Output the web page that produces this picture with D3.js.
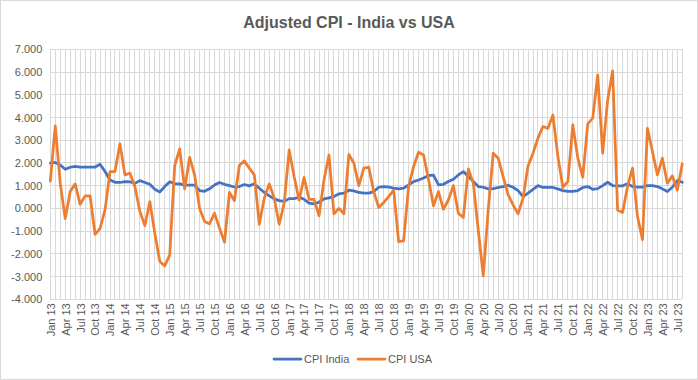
<!DOCTYPE html>
<html>
<head>
<meta charset="utf-8">
<script src="https://cdn.jsdelivr.net/npm/d3@7"></script>
<style>
html,body{margin:0;padding:0;background:#fff;}
svg{display:block;font-family:"Liberation Sans",Arial,sans-serif;}
</style>
</head>
<body>
<svg id="chart" width="698" height="380"></svg>
<script>
const categories = [
"Jan 13","Feb 13","Mar 13","Apr 13","May 13","Jun 13","Jul 13","Aug 13","Sep 13","Oct 13","Nov 13","Dec 13",
"Jan 14","Feb 14","Mar 14","Apr 14","May 14","Jun 14","Jul 14","Aug 14","Sep 14","Oct 14","Nov 14","Dec 14",
"Jan 15","Feb 15","Mar 15","Apr 15","May 15","Jun 15","Jul 15","Aug 15","Sep 15","Oct 15","Nov 15","Dec 15",
"Jan 16","Feb 16","Mar 16","Apr 16","May 16","Jun 16","Jul 16","Aug 16","Sep 16","Oct 16","Nov 16","Dec 16",
"Jan 17","Feb 17","Mar 17","Apr 17","May 17","Jun 17","Jul 17","Aug 17","Sep 17","Oct 17","Nov 17","Dec 17",
"Jan 18","Feb 18","Mar 18","Apr 18","May 18","Jun 18","Jul 18","Aug 18","Sep 18","Oct 18","Nov 18","Dec 18",
"Jan 19","Feb 19","Mar 19","Apr 19","May 19","Jun 19","Jul 19","Aug 19","Sep 19","Oct 19","Nov 19","Dec 19",
"Jan 20","Feb 20","Mar 20","Apr 20","May 20","Jun 20","Jul 20","Aug 20","Sep 20","Oct 20","Nov 20","Dec 20",
"Jan 21","Feb 21","Mar 21","Apr 21","May 21","Jun 21","Jul 21","Aug 21","Sep 21","Oct 21","Nov 21","Dec 21",
"Jan 22","Feb 22","Mar 22","Apr 22","May 22","Jun 22","Jul 22","Aug 22","Sep 22","Oct 22","Nov 22","Dec 22",
"Jan 23","Feb 23","Mar 23","Apr 23","May 23","Jun 23","Jul 23","Aug 23"
];

const tickLabels = [
"Jan 13","Apr 13","Jul 13","Oct 13","Jan 14","Apr 14","Jul 14","Oct 14",
"Jan 15","Apr 15","Jul 15","Oct 15","Jan 16","Apr 16","Jul 16","Oct 16",
"Jan 17","Apr 17","Jul 17","Oct 17","Jan 18","Apr 18","Jul 18","Oct 18",
"Jan 19","Apr 19","Jul 19","Oct 19","Jan 20","Apr 20","Jul 20","Oct 20",
"Jan 21","Apr 21","Jul 21","Oct 21","Jan 22","Apr 22","Jul 22","Oct 22",
"Jan 23","Apr 23","Jul 23"
];

const yTicks = [-4,-3,-2,-1,0,1,2,3,4,5,6,7];

const cpiIndia = [
1.99,2.02,1.91,1.72,1.81,1.85,1.82,1.82,1.82,1.82,1.94,1.62,
1.25,1.15,1.14,1.18,1.17,1.10,1.22,1.14,1.06,0.84,0.72,0.96,
1.17,1.08,1.08,1.02,1.02,1.02,0.78,0.75,0.86,1.03,1.14,1.06,
1.00,0.94,0.96,1.05,0.99,1.08,0.89,0.70,0.55,0.42,0.34,0.31,
0.43,0.43,0.49,0.40,0.23,0.20,0.27,0.42,0.46,0.52,0.64,0.67,
0.80,0.77,0.70,0.67,0.67,0.74,0.93,0.96,0.94,0.89,0.86,0.89,
1.03,1.18,1.25,1.34,1.45,1.46,1.03,1.06,1.18,1.28,1.47,1.62,
1.40,1.18,0.96,0.93,0.86,0.87,0.92,0.96,1.02,0.93,0.78,0.52,
0.67,0.84,1.00,0.92,0.92,0.92,0.86,0.78,0.75,0.75,0.78,0.92,
0.96,0.84,0.87,1.00,1.15,1.00,0.99,0.99,1.08,0.96,0.94,0.94,
1.00,1.00,0.96,0.86,0.74,0.93,1.22,1.15
];

const cpiUSA = [
1.20,3.63,1.10,-0.45,0.74,1.08,0.18,0.55,0.55,-1.14,-0.88,-0.07,
1.62,1.62,2.84,1.47,1.55,0.96,-0.14,-0.76,0.30,-1.09,-2.34,-2.53,
-2.05,1.88,2.62,0.86,2.24,1.47,0.00,-0.58,-0.68,-0.21,-0.87,-1.49,
0.70,0.34,1.90,2.09,1.77,1.47,-0.70,0.45,1.08,0.45,-0.70,0.23,
2.57,1.40,0.36,1.36,0.40,0.40,-0.33,1.25,2.35,-0.24,0.00,-0.24,
2.38,1.99,1.00,1.77,1.81,0.74,0.04,0.26,0.52,0.81,-1.46,-1.43,
0.96,1.84,2.47,2.35,1.28,0.11,0.74,-0.04,0.37,1.00,-0.21,-0.40,
1.74,1.11,-0.95,-2.97,-0.07,2.43,2.21,1.40,0.59,0.15,-0.24,0.45,
1.87,2.43,3.09,3.60,3.52,4.11,2.28,0.92,1.18,3.67,2.21,1.37,
3.72,3.97,5.87,2.43,4.77,6.05,-0.07,-0.18,0.96,1.77,-0.36,-1.38,
3.52,2.50,1.47,2.21,1.11,1.43,0.81,1.96
];

const seriesNames = ["CPI India","CPI USA"];
const seriesColors = ["#4472C4","#ED7D31"];

const svg = d3.select("#chart");
const W = 698, H = 380;
const plot = {left:50.3, right:682.3, top:49.3, bottom:299.3};

svg.append("rect").attr("x",0.5).attr("y",0.5).attr("width",W-1).attr("height",H-1)
  .attr("fill","#fff").attr("stroke","#D9D9D9");

const x = d3.scalePoint().domain(categories).range([plot.left, plot.right]);
const y = d3.scaleLinear().domain([-4,7]).range([plot.bottom, plot.top]);

// gridlines
const grid = svg.append("g").attr("stroke","#D9D9D9").attr("stroke-width",1).attr("shape-rendering","crispEdges");
grid.selectAll("line.h").data(yTicks).join("line").attr("class","h")
  .attr("x1",plot.left).attr("x2",plot.right).attr("y1",d=>y(d)).attr("y2",d=>y(d));
grid.selectAll("line.v").data(categories).join("line").attr("class","v")
  .attr("x1",d=>x(d)).attr("x2",d=>x(d)).attr("y1",plot.top).attr("y2",plot.bottom);

// y axis
const yAxis = svg.append("g").attr("transform",`translate(${plot.left},0)`)
  .call(d3.axisLeft(y).tickValues(yTicks).tickSize(0).tickPadding(8).tickFormat(d=>d.toFixed(3)));
yAxis.select(".domain").remove();
yAxis.selectAll("text").attr("fill","#595959").attr("font-size","11px").attr("font-family","Liberation Sans, Arial, sans-serif");

// x axis
const xAxis = svg.append("g").attr("transform",`translate(0,${plot.bottom})`)
  .call(d3.axisBottom(x).tickValues(tickLabels).tickSize(0));
xAxis.select(".domain").remove();
xAxis.selectAll("text")
  .attr("fill","#595959").attr("font-size","11px").attr("font-family","Liberation Sans, Arial, sans-serif")
  .attr("transform","rotate(-90)")
  .attr("text-anchor","end")
  .attr("x",-4).attr("y",0).attr("dy","0.35em");

// lines
const line = d3.line().x((d,i)=>x(categories[i])).y(d=>y(d));
[cpiIndia, cpiUSA].forEach((s,k)=>{
  svg.append("path").datum(s).attr("d",line)
    .attr("fill","none").attr("stroke",seriesColors[k]).attr("stroke-width",2.75)
    .attr("stroke-linejoin","round").attr("stroke-linecap","round");
});

// title
svg.append("text").attr("x",349).attr("y",28).attr("text-anchor","middle")
  .attr("font-size","16px").attr("font-weight","bold").attr("fill","#595959")
  .text("Adjusted CPI - India vs USA");

// legend
const legX = [274, 358];
const legend = svg.append("g");
seriesNames.forEach((n,k)=>{
  legend.append("line").attr("x1",legX[k]).attr("x2",legX[k]+27).attr("y1",359).attr("y2",359)
    .attr("stroke",seriesColors[k]).attr("stroke-width",2.75).attr("stroke-linecap","round");
  legend.append("text").attr("x",legX[k]+30).attr("y",359).attr("dy","0.35em")
    .attr("font-size","11px").attr("fill","#595959").text(n);
});
</script>
</body>
</html>
